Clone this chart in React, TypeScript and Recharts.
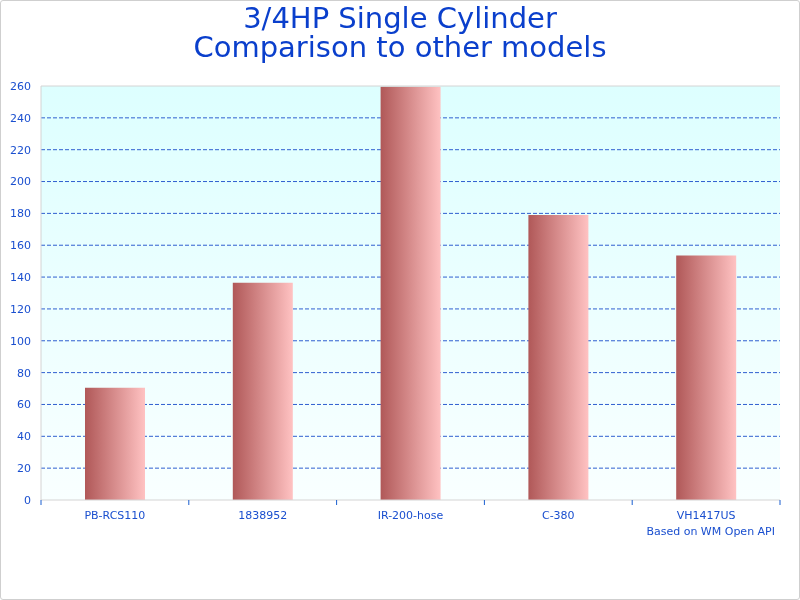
import { BarChart, Bar, XAxis, YAxis, CartesianGrid, ReferenceLine } from 'recharts'

const models = ['PB-RCS110', '1838952', 'IR-200-hose', 'C-380', 'VH1417US']
const scores = [70.5, 136.5, 259.5, 179, 153.5]
const yTicks = [0, 20, 40, 60, 80, 100, 120, 140, 160, 180, 200, 220, 240, 260]
const edges = [0, 1, 2, 3, 4, 5]

const data = models.map((m, i) => ({ model: m, idx: i + 0.5, score: scores[i] }))

const blue = '#1a4fcf'
const font = '"DejaVu Sans", Verdana, sans-serif'
const titleStyle = { position: 'absolute' as const, left: 0, width: 798, textAlign: 'center' as const, color: '#0a3fcc', fontSize: 29, lineHeight: '29px' }

export default function App() {
  return (
    <div style={{ position: 'fixed', left: 0, top: 0, width: 800, height: 600, border: '1px solid #cfcfcf', borderRadius: 3, boxSizing: 'border-box', background: '#fff', fontFamily: font }}>
      <div style={{ ...titleStyle, top: 3 }}>3/4HP Single Cylinder</div>
      <div style={{ ...titleStyle, top: 32 }}>Comparison to other models</div>
      <div style={{ position: 'absolute', left: 0, top: -1 }}>
        <BarChart width={800} height={600} data={data} margin={{ top: 86, right: 21, bottom: 70, left: 0 }} barSize={60}>
          <defs>
            <linearGradient id="bg" x1="0" y1="0" x2="0" y2="1">
              <stop offset="0%" stopColor="#ddffff" />
              <stop offset="100%" stopColor="#f9ffff" />
            </linearGradient>
            <linearGradient id="barG" x1="0" y1="0" x2="1" y2="0">
              <stop offset="0%" stopColor="#b05858" />
              <stop offset="100%" stopColor="#ffc2c2" />
            </linearGradient>
          </defs>
          <CartesianGrid xAxisId="b" vertical={false} fill="url(#bg)" stroke="#2f5fd0" strokeDasharray="4 2" horizontalValues={yTicks.slice(1, -1)} />
          <XAxis xAxisId="a" type="number" dataKey="idx" domain={[0, 5]} ticks={edges} height={6} axisLine={{ stroke: '#d4d4d4' }} tickLine={{ stroke: '#1a5fd0' }} tickSize={5} tick={{ fill: 'none', fontSize: 1 }} />
          <XAxis xAxisId="b" dataKey="model" height={24} axisLine={false} tickLine={false} tickSize={0} tickMargin={5} interval={0} tick={{ fill: blue, fontSize: 11, fontFamily: font }} />
          <YAxis domain={[0, 260]} ticks={yTicks} width={40} axisLine={{ stroke: '#d4d4d4' }} tickLine={false} tickSize={0} tickMargin={10} tick={{ fill: blue, fontSize: 11, fontFamily: font }} />
          <YAxis yAxisId="r" orientation="right" width={0} axisLine={{ stroke: '#d4d4d4' }} tick={false} tickLine={false} />
          <ReferenceLine y={260} xAxisId="b" stroke="#d4d4d4" />
          <Bar dataKey="score" xAxisId="b" fill="url(#barG)" isAnimationActive={false} />
        </BarChart>
      </div>
      <div style={{ position: 'absolute', right: 24, top: 524, color: blue, fontSize: 11 }}>Based on WM Open API</div>
    </div>
  )
}
